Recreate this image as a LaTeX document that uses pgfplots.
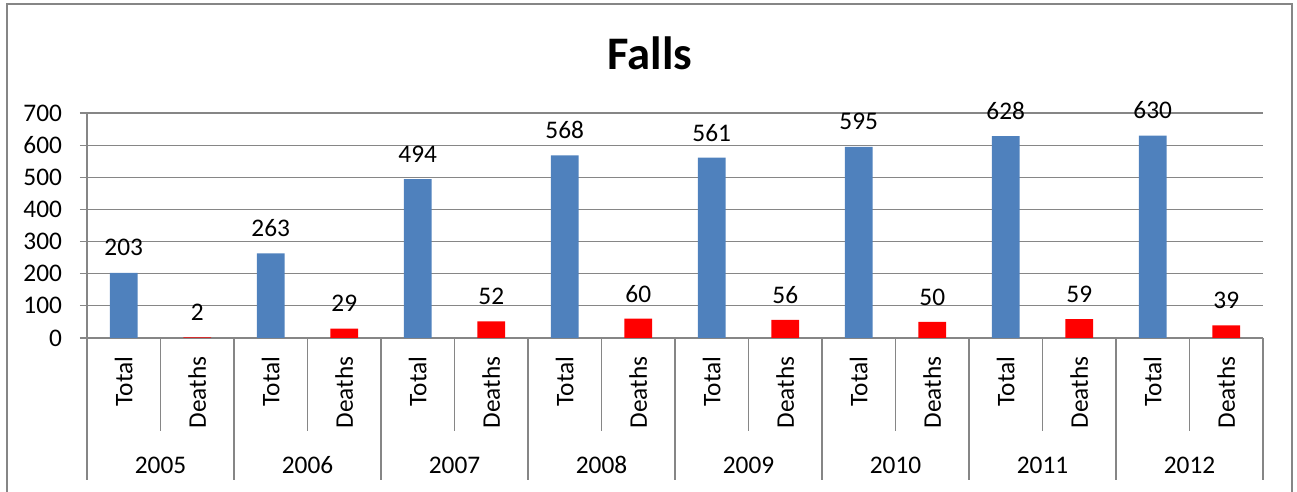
\documentclass[border=0pt]{standalone}
\usepackage{fontspec}
\setmainfont{Carlito}
\usepackage{pgfplots}
\pgfplotsset{compat=1.18}
\definecolor{gridgray}{RGB}{134,134,134}
\definecolor{barblue}{RGB}{79,129,189}
\definecolor{barred}{RGB}{255,0,0}
\pgfplotsset{/pgf/number format/assume math mode=true}
\begin{document}
\begin{tikzpicture}
\path[use as bounding box] (-65.25pt,-115.5pt) rectangle (907.5pt,253.5pt);
\draw[gridgray, line width=1pt] (-60pt,-130pt) rectangle (903.75pt,250.5pt);
\node[font=\fontsize{35}{35}\selectfont\bfseries] at (422.25pt,213.75pt) {Falls};
\begin{axis}[
  scale only axis, width=882pt, height=168.75pt,
  xmin=-0.5, xmax=15.5, ymin=0, ymax=700,
  ytick={0,100,...,700},
  xtick={0,...,15},
  xticklabels={Total,Deaths,Total,Deaths,Total,Deaths,Total,Deaths,Total,Deaths,Total,Deaths,Total,Deaths,Total,Deaths},
  axis x line*=bottom, axis y line*=left,
  axis line style={gridgray, line width=0.8pt, -},
  ymajorgrids, grid style={gridgray, line width=0.8pt},
  ytick style={gridgray, line width=0.8pt},
  xtick style={draw=none},
  major tick length=5.25pt,
  tick align=outside,
  ybar, bar shift=0pt, bar width=0.38,
  nodes near coords,
  nodes near coords style={font=\fontsize{19}{19}\selectfont, anchor=center, yshift=18.75pt, text=black},
  ticklabel style={font=\fontsize{19}{19}\selectfont, text=black},
  yticklabel style={xshift=-10pt},
  xticklabel style={rotate=90, anchor=east, xshift=-5.25pt},
  clip=false,
]
\addplot[fill=barblue, draw=none] coordinates {(0,203) (2,263) (4,494) (6,568) (8,561) (10,595) (12,628) (14,630)};
\addplot[fill=barred, draw=none] coordinates {(1,2) (3,29) (5,52) (7,60) (9,56) (11,50) (13,59) (15,39)};
\pgfplotsinvokeforeach{0.5,2.5,4.5,6.5,8.5,10.5,12.5,14.5}{
  \draw[gridgray, line width=0.8pt] (axis cs:#1,0) -- ++(0pt,-69.75pt);
}
\pgfplotsinvokeforeach{-0.5,1.5,3.5,5.5,7.5,9.5,11.5,13.5,15.5}{
  \draw[gridgray, line width=0.8pt] (axis cs:#1,0) -- ++(0pt,-106.5pt);
}
\node[font=\fontsize{19}{19}\selectfont] at (axis cs:0.5,0) [yshift=-95.25pt] {2005};
\node[font=\fontsize{19}{19}\selectfont] at (axis cs:2.5,0) [yshift=-95.25pt] {2006};
\node[font=\fontsize{19}{19}\selectfont] at (axis cs:4.5,0) [yshift=-95.25pt] {2007};
\node[font=\fontsize{19}{19}\selectfont] at (axis cs:6.5,0) [yshift=-95.25pt] {2008};
\node[font=\fontsize{19}{19}\selectfont] at (axis cs:8.5,0) [yshift=-95.25pt] {2009};
\node[font=\fontsize{19}{19}\selectfont] at (axis cs:10.5,0) [yshift=-95.25pt] {2010};
\node[font=\fontsize{19}{19}\selectfont] at (axis cs:12.5,0) [yshift=-95.25pt] {2011};
\node[font=\fontsize{19}{19}\selectfont] at (axis cs:14.5,0) [yshift=-95.25pt] {2012};
\end{axis}
\end{tikzpicture}
\end{document}
